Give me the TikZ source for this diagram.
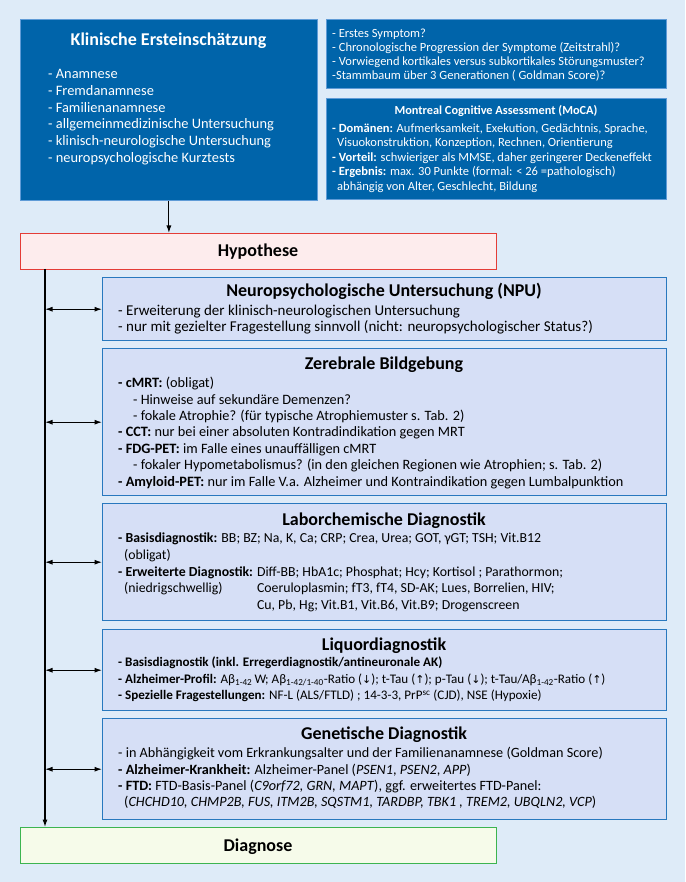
\documentclass[tikz,border=0pt]{standalone}
\usepackage{fontspec}
\setmainfont{Carlito}
\newfontfamily\arrowfont{DejaVu Sans}
\usepackage{xcolor}
\usetikzlibrary{arrows.meta}

\definecolor{bgblue}{RGB}{222,235,248}
\definecolor{topblue}{RGB}{0,100,170}
\definecolor{topline}{RGB}{95,155,215}
\definecolor{boxfill}{RGB}{214,223,246}
\definecolor{boxline}{RGB}{40,120,190}
\definecolor{hypfill}{RGB}{253,236,237}
\definecolor{hypline}{RGB}{228,60,55}
\definecolor{diagfill}{RGB}{246,251,234}
\definecolor{diagline}{RGB}{60,180,80}

\newcommand{\arrdown}{{\arrowfont\fontsize{11}{12}\selectfont ↓}}
\newcommand{\arrup}{{\arrowfont\fontsize{11}{12}\selectfont ↑}}

\tikzset{
	topbox/.style={draw=topline, fill=topblue, line width=0.8pt, anchor=north west, inner sep=0pt},
	infobox/.style={draw=boxline, fill=boxfill, line width=1.4pt, anchor=north west, inner sep=0pt},
	hypbox/.style={draw=hypline, fill=hypfill, line width=1.2pt, anchor=north west, inner sep=0pt},
	diagbox/.style={draw=diagline, fill=diagfill, line width=1.2pt, anchor=north west, inner sep=0pt},
	toptitle/.style={text=white, anchor=base, inner sep=0pt, font=\fontsize{18}{21}\selectfont\bfseries},
	toplist/.style={text=white, anchor=north west, inner sep=0pt, align=left},
	boxtitle/.style={anchor=base, inner sep=0pt, font=\fontsize{18}{21}\selectfont\bfseries},
	boxlist/.style={anchor=north west, inner sep=0pt, align=left, font=\fontsize{14.2}{16.4}\selectfont},
	flow/.style={line width=1.1pt, -{Latex[length=7.5pt,width=5pt]}},
	both/.style={line width=1.1pt, {Latex[length=7.5pt,width=5pt]}-{Latex[length=7.5pt,width=5pt]}}
}

\begin{document}
\begin{tikzpicture}[x=1pt, y=-1pt]
	\useasboundingbox (0,0) rectangle (685,882);
	\fill[bgblue] (0,0) rectangle (685,882);

	\node[topbox, minimum width=297, minimum height=181] (klin) at (20,19) {};
	\node[toptitle] (klin title) at (168.5,45.5) {Klinische Ersteinschätzung};
	\node[toplist, font=\fontsize{14.4}{16.7}\selectfont] (klin list) at (48,66.8) {\strut- Anamnese\\- Fremdanamnese\\- Familienanamnese\\- allgemeinmedizinische Untersuchung\\- klinisch-neurologische Untersuchung\\- neuropsychologische Kurztests};

	\node[topbox, minimum width=340, minimum height=69] (fragen) at (326,19) {};
	\node[toplist, font=\fontsize{12.5}{14}\selectfont] (fragen list) at (332,27.2) {\strut- Erstes Symptom?\\- Chronologische Progression der Symptome (Zeitstrahl)?\\- Vorwiegend kortikales versus subkortikales Störungsmuster?\\-Stammbaum über 3 Generationen ( Goldman Score)?};

	\node[topbox, minimum width=340, minimum height=101] (moca) at (326,98) {};
	\node[toptitle, font=\fontsize{12.3}{14}\selectfont\bfseries] (moca title) at (496,114.5) {Montreal Cognitive Assessment (MoCA)};
	\node[toplist, font=\fontsize{12.5}{14.5}\selectfont] (moca list) at (332,121.9) {\strut\textbf{- Domänen:} Aufmerksamkeit, Exekution, Gedächtnis, Sprache,\\\hspace*{5pt}Visuokonstruktion, Konzeption, Rechnen, Orientierung\\\textbf{- Vorteil:} schwieriger als MMSE, daher geringerer Deckeneffekt\\\textbf{- Ergebnis:} max. 30 Punkte (formal: < 26 =pathologisch)\\\hspace*{5pt}abhängig von Alter, Geschlecht, Bildung};

	\node[hypbox, minimum width=476, minimum height=36] (hyp) at (20,233) {};
	\node[boxtitle] (hyp title) at (258,257) {Hypothese};

	\node[infobox, minimum width=564, minimum height=63] (npu) at (102,277) {};
	\node[boxtitle] (npu title) at (384,296) {Neuropsychologische Untersuchung (NPU)};
	\node[boxlist, font=\fontsize{15}{16}\selectfont] (npu list) at (118,304.3) {\strut- Erweiterung der klinisch-neurologischen Untersuchung\\- nur mit gezielter Fragestellung sinnvoll (nicht: neuropsychologischer Status?)};

	\node[infobox, minimum width=564, minimum height=147] (bild) at (102,348) {};
	\node[boxtitle] (bild title) at (384,369) {Zerebrale Bildgebung};
	\node[boxlist, font=\fontsize{14.3}{16.4}\selectfont] (bild list) at (118,376) {\strut\textbf{- cMRT:} (obligat)\\\hspace*{15pt}- Hinweise auf sekundäre Demenzen?\\\hspace*{15pt}- fokale Atrophie? (für typische Atrophiemuster s. Tab. 2)\\\textbf{- CCT:} nur bei einer absoluten Kontradindikation gegen MRT\\\textbf{- FDG-PET:} im Falle eines unauffälligen cMRT\\\hspace*{15pt}- fokaler Hypometabolismus? (in den gleichen Regionen wie Atrophien; s. Tab. 2)\\\textbf{- Amyloid-PET:} nur im Falle V.a. Alzheimer und Kontraindikation gegen Lumbalpunktion};

	\node[infobox, minimum width=564, minimum height=117] (labor) at (102,503) {};
	\node[boxtitle] (labor title) at (384,525) {Laborchemische Diagnostik};
	\node[boxlist, font=\fontsize{13.8}{16.7}\selectfont] (labor list) at (118,530.8) {\strut\textbf{- Basisdiagnostik:} BB; BZ; Na, K, Ca; CRP; Crea, Urea; GOT, γGT; TSH; Vit.B12\\\hspace*{6pt}(obligat)\\\begin{tabular}[t]{@{}l@{\hspace{4pt}}l@{}}\textbf{- Erweiterte Diagnostik:} & Diff-BB; HbA1c; Phosphat; Hcy; Kortisol ; Parathormon;\\\hspace*{6pt}(niedrigschwellig) & Coeruloplasmin; fT3, fT4, SD-AK; Lues, Borrelien, HIV;\\ & Cu, Pb, Hg; Vit.B1, Vit.B6, Vit.B9; Drogenscreen\end{tabular}};

	\node[infobox, minimum width=564, minimum height=81] (liquor) at (102,629) {};
	\node[boxtitle] (liquor title) at (384,650.5) {Liquordiagnostik};
	\node[boxlist, font=\fontsize{13.1}{16.5}\selectfont] (liquor list) at (118,655) {\strut\textbf{- Basisdiagnostik (inkl. Erregerdiagnostik/antineuronale AK)}\\\textbf{- Alzheimer-Profil:} Aβ\textsubscript{1-42}\,W; Aβ\textsubscript{1-42/1-40}-Ratio (\arrdown); t-Tau (\arrup); p-Tau (\arrdown); t-Tau/Aβ\textsubscript{1-42}-Ratio (\arrup)\\\textbf{- Spezielle Fragestellungen:} NF-L (ALS/FTLD) ; 14-3-3, PrP\textsuperscript{sc} (CJD), NSE (Hypoxie)};

	\node[infobox, minimum width=564, minimum height=101] (genetik) at (102,718) {};
	\node[boxtitle] (genetik title) at (384,739) {Genetische Diagnostik};
	\node[boxlist] (genetik list) at (118,746) {\strut- in Abhängigkeit vom Erkrankungsalter und der Familienanamnese (Goldman Score)\\\textbf{- Alzheimer-Krankheit:} Alzheimer-Panel (\textit{PSEN1}, \textit{PSEN2}, \textit{APP})\\\textbf{- FTD:} FTD-Basis-Panel (\textit{C9orf72, GRN, MAPT}), ggf. erweitertes FTD-Panel:\\\hspace*{6pt}(\textit{CHCHD10, CHMP2B, FUS, ITM2B, SQSTM1, TARDBP, TBK1 , TREM2, UBQLN2, VCP})};

	\node[diagbox, minimum width=476, minimum height=36] (diag) at (20,827) {};
	\node[boxtitle] (diag title) at (258,851) {Diagnose};

	\coordinate (stem) at (45,269);
	\draw[flow] (klin.south) -- (klin.south |- hyp.north);
	\draw[flow] (stem) -- (stem |- diag.north);
	\draw[both] (stem |- npu.west) -- (npu.west);
	\draw[both] (stem |- bild.west) -- (bild.west);
	\draw[both] (stem |- labor.west) -- (labor.west);
	\draw[both] (stem |- liquor.west) -- (liquor.west);
	\draw[both] (stem |- genetik.west) -- (genetik.west);
\end{tikzpicture}
\end{document}
